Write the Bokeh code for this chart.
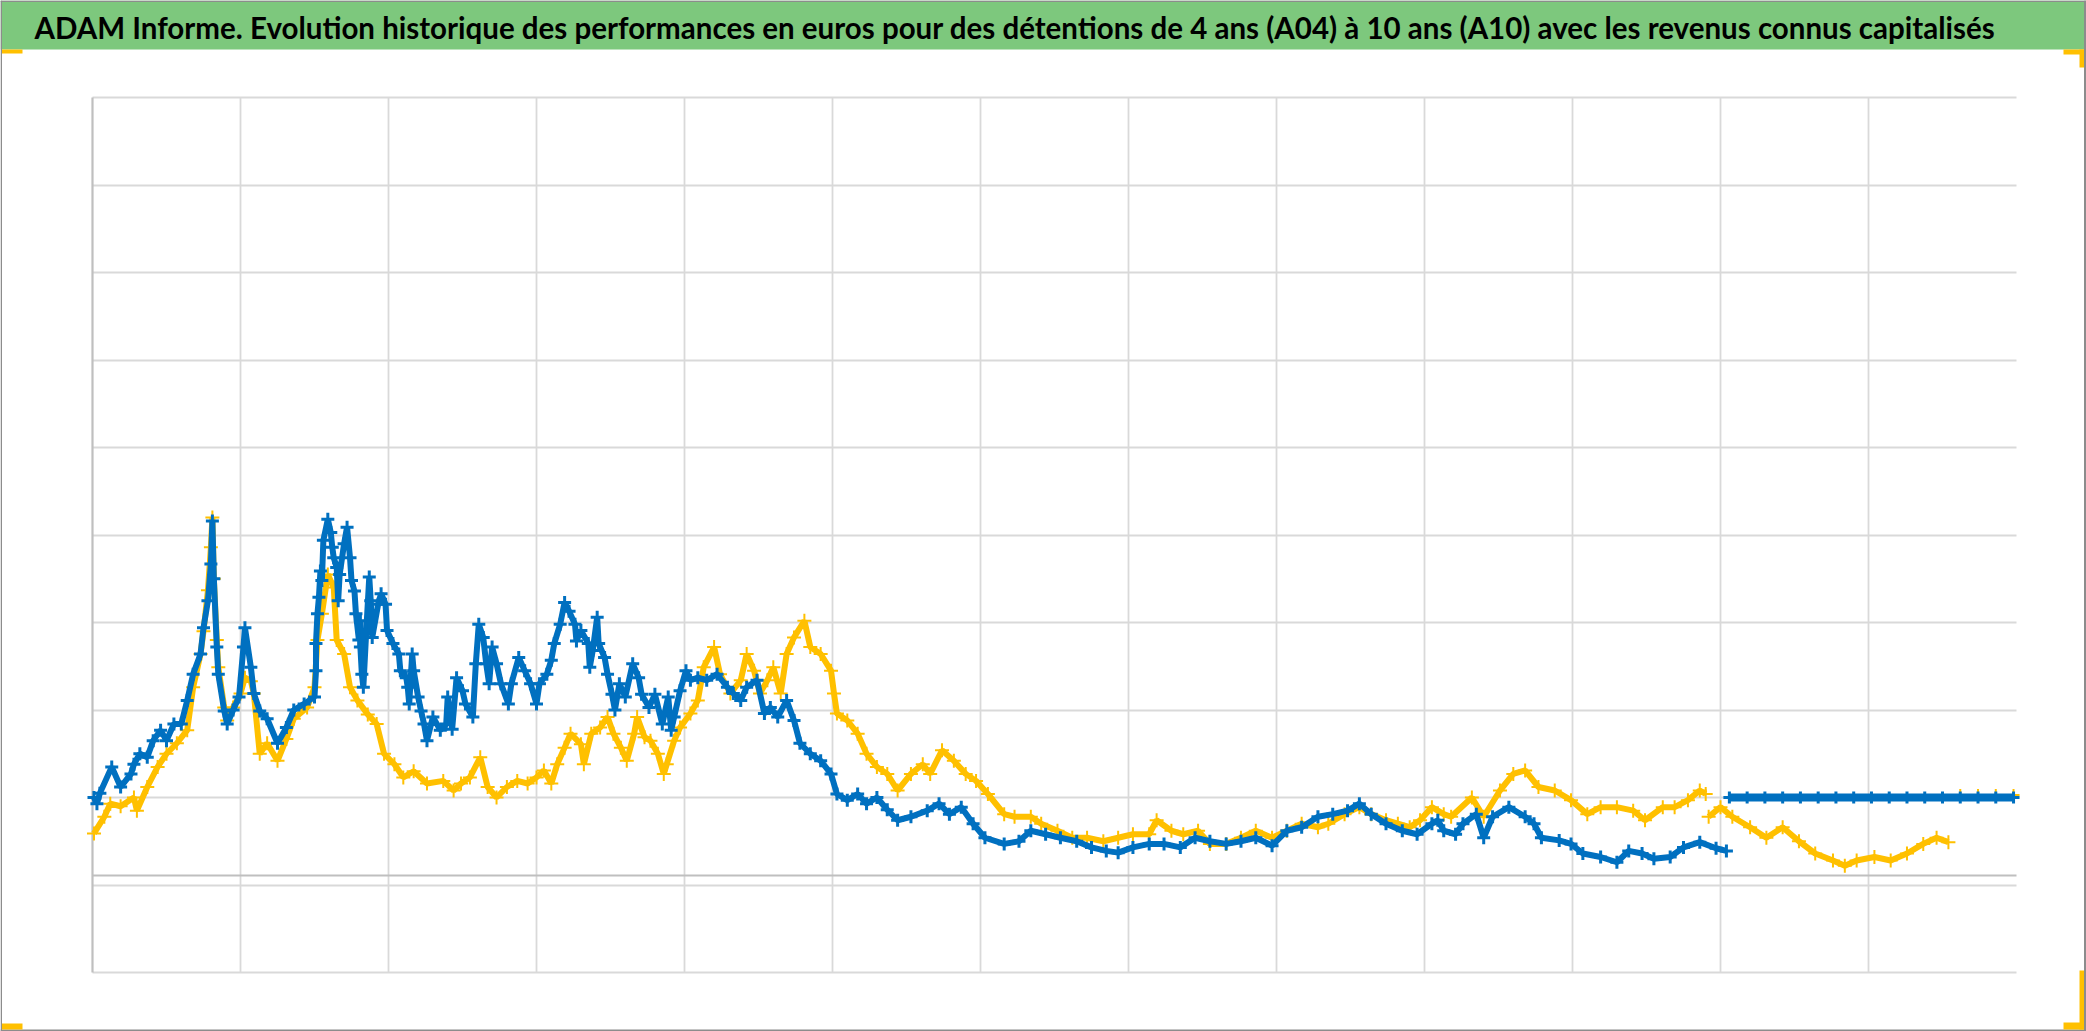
import numpy as np
from bokeh.plotting import figure
from bokeh.models import FixedTicker, BoxAnnotation, Label, ColumnDataSource, Grid, Range1d
from bokeh.embed import file_html
from bokeh.resources import INLINE

TITLE = ("ADAM Informe. Evolution historique des performances en euros pour des détentions "
         "de 4 ans (A04) à 10 ans (A10) avec les revenus connus capitalisés")

# x: periods (one gridline interval each), y: gridline units
x_grid = list(range(0, 13))
y_grid = list(range(0, 11))
x_extent = (0, 13)
y_extent = (0, 10)
axis_level = 1.114

# A10 (blue)
a10_x = [0.01, 0.03, 0.05, 0.13, 0.19, 0.26, 0.28, 0.32, 0.37, 0.41, 0.46, 0.50, 0.55, 0.60,
         0.64, 0.68, 0.73, 0.75, 0.78, 0.80, 0.81, 0.82, 0.84, 0.85, 0.89, 0.91, 0.95, 0.99,
         1.02, 1.03, 1.07, 1.09, 1.13, 1.18, 1.25, 1.31, 1.36, 1.43,
         1.50, 1.51, 1.51, 1.52, 1.53, 1.54, 1.55, 1.56, 1.59, 1.61, 1.62, 1.63, 1.65, 1.66,
         1.67, 1.70, 1.72, 1.74, 1.75, 1.77, 1.78, 1.80, 1.81, 1.81, 1.82, 1.83, 1.85, 1.87,
         1.88, 1.89, 1.93, 1.95, 1.98, 1.99, 2.03, 2.07, 2.08, 2.12, 2.13, 2.14, 2.16, 2.17,
         2.20, 2.22, 2.24, 2.26, 2.30, 2.35, 2.39, 2.40, 2.43, 2.46, 2.50, 2.52, 2.57, 2.59,
         2.61, 2.64, 2.66, 2.68, 2.70, 2.73, 2.76, 2.81, 2.83, 2.88, 2.92, 2.96, 3.00, 3.02,
         3.07, 3.10, 3.12, 3.16, 3.19, 3.22, 3.26, 3.27, 3.30, 3.35, 3.36, 3.38, 3.41, 3.42,
         3.46, 3.48, 3.51, 3.53, 3.56, 3.60, 3.65, 3.69, 3.71, 3.76, 3.80, 3.85, 3.89, 3.91,
         3.93, 3.97, 4.01,
         4.04, 4.09, 4.15, 4.22, 4.29, 4.33, 4.38, 4.42, 4.49, 4.54,
         4.58, 4.63, 4.69, 4.74, 4.78, 4.85, 4.92, 4.99, 5.03, 5.10, 5.17, 5.23, 5.30, 5.37,
         5.44, 5.53, 5.64, 5.72, 5.79, 5.87, 5.95, 6.03, 6.16, 6.26, 6.34, 6.44, 6.54, 6.65,
         6.75, 6.85, 6.93, 7.03, 7.14, 7.24, 7.35, 7.45, 7.55, 7.66, 7.76, 7.86, 7.97, 8.07,
         8.17, 8.28, 8.38, 8.48, 8.56, 8.64, 8.74, 8.85, 8.95, 9.05, 9.09, 9.13, 9.21, 9.26,
         9.35, 9.40, 9.46, 9.57, 9.68, 9.74, 9.79, 9.91, 9.99, 10.07, 10.19, 10.30, 10.38,
         10.47, 10.55, 10.66, 10.75, 10.86, 10.97, 11.04]
a10_y = [2.00, 1.93, 2.05, 2.35, 2.12, 2.27, 2.38, 2.50, 2.46, 2.65, 2.77, 2.65, 2.84, 2.84,
         3.11, 3.41, 3.64, 3.94, 4.25, 4.67, 5.16, 4.50, 3.72, 3.41, 2.99, 2.84, 3.00, 3.15,
         3.72, 3.94, 3.49, 3.19, 2.99, 2.90, 2.62, 2.80, 3.00, 3.07,
         3.15, 3.45, 3.76, 4.10, 4.29, 4.59, 4.48, 4.94, 5.18, 5.03, 4.86, 4.74, 4.63, 4.25,
         4.55, 4.90, 5.09, 4.74, 4.48, 4.36, 4.10, 3.80, 4.02, 3.72, 3.41, 3.26, 3.91, 4.52,
         4.25, 3.83, 4.21, 4.33, 4.21, 3.91, 3.76, 3.64, 3.45, 3.37, 3.26, 3.07, 3.64, 3.45,
         3.15, 2.99, 2.84, 2.65, 2.92, 2.77, 2.84, 3.15, 2.78, 3.37, 3.22, 3.07, 2.92, 3.53,
         3.98, 3.83, 3.53, 3.30, 3.72, 3.53, 3.30, 3.07, 3.30, 3.60, 3.45, 3.30, 3.07, 3.30,
         3.41, 3.57, 3.76, 3.98, 4.23, 4.13, 3.98, 3.79, 3.91, 3.76, 3.49, 3.68, 4.06, 3.76,
         3.60, 3.41, 3.18, 3.00, 3.30, 3.15, 3.53, 3.37, 3.18, 3.03, 3.18, 2.84, 3.15, 2.77,
         2.92, 3.22, 3.45,
         3.34, 3.37, 3.34, 3.41, 3.26, 3.19, 3.11, 3.26, 3.34, 2.96,
         3.03, 2.92, 3.11, 2.88, 2.62, 2.50, 2.42, 2.27, 2.04, 1.97, 2.04, 1.93, 2.00, 1.86,
         1.74, 1.78, 1.85, 1.93, 1.81, 1.89, 1.70, 1.54, 1.47, 1.50, 1.62, 1.58, 1.54, 1.50,
         1.43, 1.39, 1.37, 1.43, 1.47, 1.47, 1.43, 1.54, 1.50, 1.47, 1.50, 1.54, 1.45, 1.62,
         1.66, 1.78, 1.81, 1.85, 1.93, 1.81, 1.70, 1.62, 1.58, 1.70, 1.74, 1.62, 1.58, 1.70,
         1.81, 1.54, 1.78, 1.89, 1.78, 1.70, 1.54, 1.51, 1.47, 1.36, 1.32, 1.26, 1.39,
         1.36, 1.30, 1.32, 1.43, 1.49, 1.42, 1.39]

# A10 placeholder values after the last known 10-year holding
a10_tail_x = [11.06, 11.18, 11.30, 11.42, 11.54, 11.66, 11.78, 11.90, 12.02, 12.14, 12.26,
              12.38, 12.50, 12.62, 12.74, 12.86, 12.98]
a10_tail_y = [2.00, 2.00, 2.00, 2.00, 2.00, 2.00, 2.00, 2.00, 2.00, 2.00, 2.00,
              2.00, 2.00, 2.00, 2.00, 2.00, 2.00]

# A04 (yellow)
a04_x = [0.01, 0.08, 0.12, 0.19, 0.28, 0.30, 0.37, 0.44, 0.50, 0.57, 0.64, 0.68, 0.73, 0.75,
         0.78, 0.80, 0.81, 0.82, 0.84, 0.85, 0.89, 0.91, 0.95, 1.00, 1.03, 1.07, 1.09, 1.13,
         1.18, 1.25, 1.31, 1.36, 1.45, 1.50, 1.52, 1.55, 1.59, 1.63, 1.65, 1.70, 1.74, 1.79,
         1.86, 1.92, 1.97, 2.04, 2.10, 2.17, 2.26, 2.37, 2.44, 2.49, 2.55, 2.62, 2.67, 2.73,
         2.80, 2.87, 2.94, 3.00, 3.05, 3.10, 3.14, 3.19, 3.23, 3.30, 3.32, 3.37, 3.43, 3.48,
         3.52, 3.57, 3.61, 3.66, 3.68, 3.73, 3.77, 3.82, 3.86, 3.88, 3.93, 3.97, 4.04, 4.09,
         4.13, 4.20, 4.24, 4.31, 4.38, 4.42, 4.47, 4.51, 4.56, 4.60, 4.65, 4.69, 4.74, 4.81,
         4.85, 4.92, 4.99, 5.01, 5.03, 5.10, 5.17, 5.23, 5.30, 5.37, 5.44, 5.53, 5.61, 5.66,
         5.74, 5.82, 5.90, 5.97, 6.05, 6.16, 6.23, 6.34, 6.41, 6.52, 6.62, 6.72, 6.83, 6.93,
         7.03, 7.14, 7.19, 7.29, 7.37, 7.47, 7.55, 7.66, 7.76, 7.86, 7.97, 8.07, 8.17, 8.28,
         8.35, 8.46, 8.56, 8.64, 8.74, 8.82, 8.90, 8.97, 9.05, 9.13, 9.18, 9.32, 9.40, 9.51,
         9.60, 9.68, 9.77, 9.88, 9.99, 10.10, 10.19, 10.30, 10.41, 10.49, 10.61, 10.69, 10.78,
         10.86, 10.90, np.nan, 10.92, 11.00, 11.08, 11.20, 11.31, 11.42, 11.53, 11.64, 11.76,
         11.84, 11.92, 12.04, 12.15, 12.26, 12.37, 12.46, 12.54]
a04_y = [1.59, 1.78, 1.93, 1.90, 2.00, 1.85, 2.12, 2.35, 2.50, 2.62, 2.77, 3.26, 3.64, 3.90,
         4.37, 4.86, 5.20, 4.50, 3.80, 3.49, 3.03, 2.88, 3.03, 3.19, 3.37, 3.33, 3.19, 2.50,
         2.62, 2.42, 2.67, 2.90, 3.03, 3.26, 3.80, 4.10, 4.55, 4.40, 3.80, 3.64, 3.26, 3.11,
         2.95, 2.84, 2.50, 2.38, 2.23, 2.30, 2.16, 2.19, 2.08, 2.16, 2.23, 2.46, 2.12, 2.00,
         2.12, 2.19, 2.16, 2.23, 2.31, 2.16, 2.38, 2.57, 2.73, 2.61, 2.38, 2.73, 2.80, 2.92,
         2.73, 2.57, 2.42, 2.73, 2.92, 2.69, 2.65, 2.50, 2.27, 2.38, 2.65, 2.80, 2.96, 3.11,
         3.49, 3.72, 3.41, 3.19, 3.34, 3.64, 3.45, 3.19, 3.34, 3.49, 3.19, 3.64, 3.83, 4.02,
         3.72, 3.64, 3.45, 3.19, 2.96, 2.88, 2.73, 2.50, 2.35, 2.27, 2.08, 2.27, 2.38, 2.27,
         2.54, 2.42, 2.27, 2.19, 2.04, 1.81, 1.78, 1.78, 1.70, 1.62, 1.54, 1.54, 1.50, 1.54,
         1.58, 1.58, 1.74, 1.62, 1.58, 1.62, 1.47, 1.47, 1.54, 1.62, 1.54, 1.62, 1.70, 1.66,
         1.70, 1.81, 1.89, 1.81, 1.74, 1.70, 1.66, 1.74, 1.89, 1.81, 1.78, 2.00, 1.78, 2.08,
         2.27, 2.31, 2.12, 2.08, 1.97, 1.81, 1.89, 1.89, 1.85, 1.74, 1.89, 1.89, 1.97,
         2.08, 2.04, np.nan, 1.78, 1.89, 1.78, 1.66, 1.54, 1.66, 1.50, 1.36, 1.28,
         1.22, 1.28, 1.32, 1.28, 1.36, 1.47, 1.54, 1.49]

a04_tail_x = [12.62, 12.74, 12.86, 12.98]
a04_tail_y = [2.03, 2.03, 2.03, 2.03]

BLUE = "#0070C0"
YELLOW = "#FFC000"
GREEN = "#7DC87D"
GRID = "#D9D9D9"
AXIS = "#BFBFBF"
EDGE = "#8C8C8C"

# canvas geometry (pixels): plot-area origin and scale
W, H = 2086, 1031
X0_PX, PX_PER_X = 92.0, 148.0
Y0_PX, PX_PER_Y = 972.0, 87.5


def px2x(px):
    return (px - X0_PX) / PX_PER_X


def px2y(py):
    return (Y0_PX - py) / PX_PER_Y


p = figure(width=W, height=H, output_backend="svg", toolbar_location=None,
           x_range=Range1d(px2x(0), px2x(W)), y_range=Range1d(px2y(H), px2y(0)),
           x_axis_location=None, y_axis_location=None,
           min_border_left=0, min_border_right=0, min_border_top=0, min_border_bottom=0)
p.background_fill_color = "white"
p.border_fill_color = "white"
p.outline_line_color = None
p.xgrid.visible = False
p.ygrid.visible = False

HAS_CB = "cross_bounds" in Grid.properties()


def add_grid(dim, ticks, cross, color, width):
    if HAS_CB:
        p.add_layout(Grid(dimension=dim, ticker=FixedTicker(ticks=ticks), cross_bounds=cross,
                          grid_line_color=color, grid_line_width=width))
    else:
        if dim == 0:
            p.segment(x0=ticks, x1=ticks, y0=[cross[0]] * len(ticks), y1=[cross[1]] * len(ticks),
                      line_color=color, line_width=width, level="underlay")
        else:
            p.segment(y0=ticks, y1=ticks, x0=[cross[0]] * len(ticks), x1=[cross[1]] * len(ticks),
                      line_color=color, line_width=width, level="underlay")


add_grid(0, x_grid[1:], y_extent, GRID, 1.8)
add_grid(1, y_grid, x_extent, GRID, 1.8)
add_grid(0, [0], y_extent, AXIS, 2.2)          # vertical axis line
add_grid(1, [axis_level], x_extent, AXIS, 2.2)  # horizontal axis line

src04 = ColumnDataSource(dict(x=a04_x, y=a04_y))
src10 = ColumnDataSource(dict(x=a10_x, y=a10_y))

p.line("x", "y", source=src04, line_color=YELLOW, line_width=6)
p.scatter("x", "y", source=src04, marker="cross", size=14, line_color=YELLOW, line_width=2)
p.scatter(a04_tail_x, a04_tail_y, marker="cross", size=12, line_color=YELLOW, line_width=2)

p.line("x", "y", source=src10, line_color=BLUE, line_width=6)
p.scatter("x", "y", source=src10, marker="cross", size=13, line_color=BLUE, line_width=3)
p.line(a10_tail_x, a10_tail_y, line_color=BLUE, line_width=8)
p.scatter(a10_tail_x, a10_tail_y, marker="cross", size=12, line_color=BLUE, line_width=3)


def deco(x0, y0, x1, y1, color):
    """Decorative box given in canvas pixels (origin top-left)."""
    p.add_layout(BoxAnnotation(left=px2x(x0), right=px2x(x1), top=px2y(y0), bottom=px2y(y1),
                               fill_color=color, fill_alpha=1.0, line_color=None,
                               level="overlay"))


# title band
deco(0, 0, W, 49, GREEN)
# outer frame
deco(0, 0, W, 1.5, EDGE)
deco(0, 0, 1.5, H, EDGE)
deco(W - 2.5, 0, W, H, EDGE)
deco(0, H - 2, W, H, EDGE)
# orange corner handles
deco(1.5, 49, 22, 53, YELLOW)
deco(2063, 49, W - 2.5, 54, YELLOW)
deco(2079, 49, W - 2.5, 67, YELLOW)
deco(1.5, 1023, 22, H - 2, YELLOW)
deco(2079, 970, W - 2.5, H - 2, YELLOW)
deco(2063, 1022, W - 2.5, H - 2, YELLOW)

p.add_layout(Label(x=px2x(34), y=px2y(27), text=TITLE,
                   text_font="Lato", text_font_style="bold",
                   text_font_size="29.5px", text_color="black",
                   text_align="left", text_baseline="alphabetic", level="overlay"))

open("out.html", "w").write(file_html(p, INLINE))
